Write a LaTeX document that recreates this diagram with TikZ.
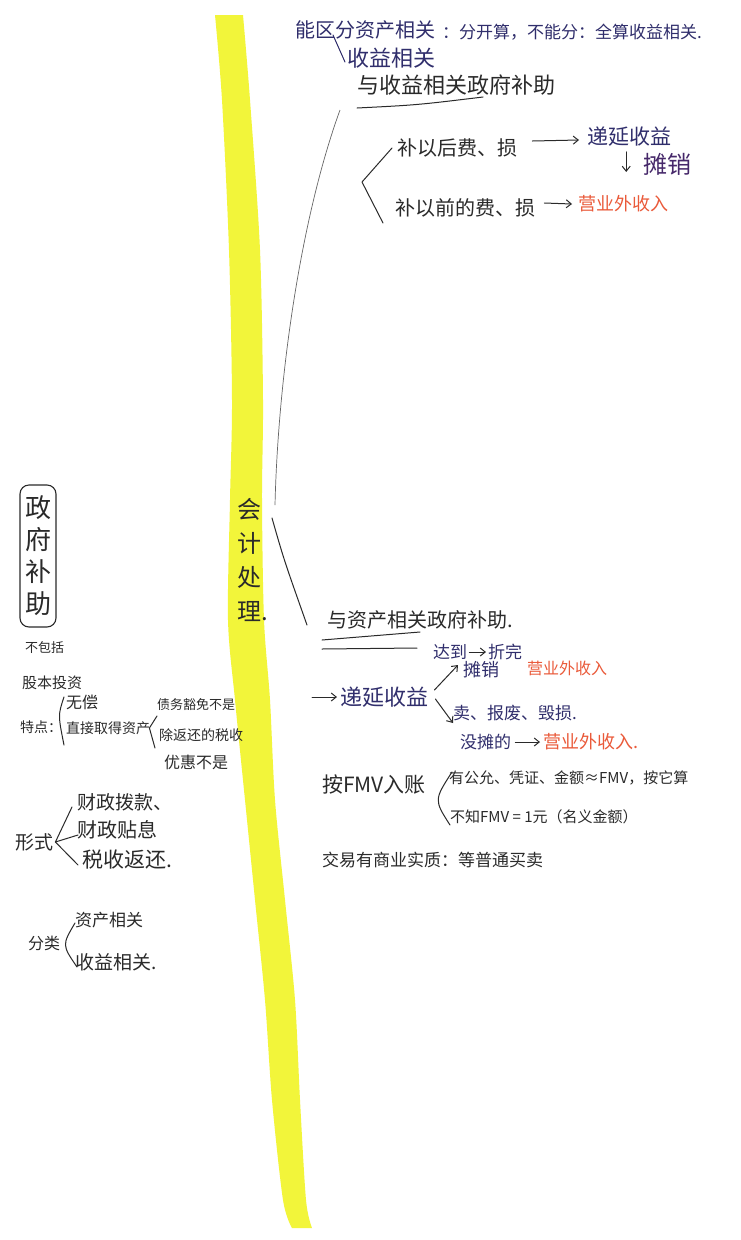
\documentclass[tikz,border=0pt]{standalone}
\usepackage{fontspec}
\setmainfont{Noto Sans CJK SC}
\usetikzlibrary{arrows.meta}
\definecolor{ink}{HTML}{2A2A2A}
\definecolor{navy}{HTML}{302E6C}
\definecolor{purp}{HTML}{46286A}
\definecolor{redink}{HTML}{EA5A3A}
\definecolor{hl}{HTML}{F2F53A}
\definecolor{greyline}{HTML}{666666}
\begin{document}
\begin{tikzpicture}[x=1pt,y=-1pt,
  t/.style={anchor=west,inner sep=0pt,text=ink},
  fs/.style={font=\fontsize{#1}{#1}\selectfont},
  nv/.style={text=navy},
  rd/.style={text=redink},
  ln/.style={draw=ink,line width=1pt,line cap=round,line join=round},
  arr/.style={ln,-{Straight Barb[length=5pt,width=8pt]}}]
\useasboundingbox (0,0) rectangle (740,1240);
\fill[white] (0,0) rectangle (740,1240);
% highlighter stripe
\fill[hl] plot[smooth] coordinates {(215,15) (222,100) (229,250) (232,400) (230,500) (228,620) (235,700) (245,800) (255,900) (265,1000) (272,1100) (283,1200) (292,1228)}
  -- plot[smooth] coordinates {(312,1228) (306,1200) (300,1100) (295,1000) (285,900) (275,800) (270,700) (264,620) (262,500) (263,400) (260,250) (250,100) (243,15)} -- cycle;

% central node
\node[inner sep=0pt,text=ink,align=center,font=\fontsize{24}{34}\selectfont] (kj) at (249,560) {会\\计\\处\\理\rlap{.}};

% connectors from central node
\coordinate (gTop) at (340,110);
\coordinate (gBot) at (275,505);
\coordinate (kTop) at (272,518);
\coordinate (kBot) at (307,625);
\draw[draw=greyline,line width=0.7pt] (gTop) .. controls (300,220) and (278,380) .. (gBot);
\draw[ln] (kTop) .. controls (284,560) .. (kBot);

% ---------- top branch ----------
\node[t,nv,fs=20] (t1a) at (295,30) {能区分资产相关};
\node[t,nv,fs=17] (t1b) at (442,32) {：分开算，不能分：全算收益相关.};
\node[t,nv,fs=22] (t2) at (347,58) {收益相关};
\draw[ln,draw=navy] ([xshift=38pt,yshift=-5pt]t1a.west) -- ([xshift=-2pt,yshift=-4pt]t2.west);
\node[t,fs=22] (t3) at (357,85) {与收益相关政府补助};
\draw[ln] ([yshift=-23pt]t3.west) .. controls ([xshift=60pt,yshift=-20pt]t3.west) .. ([xshift=126pt,yshift=-12pt]t3.west);

\node[t,fs=20] (b1) at (397,148) {补以后费、损};
\node[t,nv,fs=21] (d1) at (587,137) {递延收益};
\node[t,fs=24,text=purp] (am1) at (643,164) {摊销};
\node[t,fs=20] (b2) at (395,208) {补以前的费、损};
\node[t,rd,fs=18] (y1) at (578,204) {营业外收入};
\draw[arr] ([xshift=15pt,yshift=7pt]b1.east) -- ([xshift=-8pt,yshift=-3pt]d1.west);
\draw[arr] ([xshift=-3pt,yshift=-5pt]d1.south) -- ++(0,20);
\draw[arr] ([xshift=9pt,yshift=5pt]b2.east) -- ([xshift=-6pt]y1.west);
\draw[ln] ([xshift=-5pt]b1.west) -- (362,182) -- ([xshift=-12pt,yshift=-15pt]b2.west);

% ---------- lower branch ----------
\node[t,fs=20] (m1) at (327,620) {与资产相关政府补助.};
\draw[ln] ([xshift=-5pt,yshift=-20pt]m1.west) -- ([xshift=93pt,yshift=-12pt]m1.west);
\draw[ln] ([xshift=-5pt,yshift=-29pt]m1.west) -- ([xshift=90pt,yshift=-28pt]m1.west);
\node[t,nv,fs=22] (m2) at (340,697) {递延收益};
\draw[arr] ([xshift=-28pt]m2.west) -- ([xshift=-3pt]m2.west);
\node[t,nv,fs=17] (m3) at (433,652) {达到};
\node[t,nv,fs=17] (m3b) at (488,652) {折完};
\draw[arr] ([xshift=2pt]m3.east) -- ([xshift=-2pt]m3b.west);
\node[t,nv,fs=18] (m4) at (463,670) {摊销};
\node[t,rd,fs=16] (m5) at (527,668) {营业外收入};
\draw[arr] ([xshift=6pt,yshift=7pt]m2.east) -- ([xshift=-5pt,yshift=5pt]m4.west);
\node[t,nv,fs=17] (m6) at (453,713) {卖、报废、毁损.};
\draw[arr] ([xshift=7pt,yshift=-2pt]m2.east) -- ([yshift=-10pt]m6.west);
\node[t,nv,fs=17] (m7) at (460,742) {没摊的};
\node[t,rd,fs=18] (m8) at (543,742) {营业外收入.};
\draw[arr] ([xshift=4pt]m7.east) -- ([xshift=-3pt]m8.west);

\node[t,fs=21] (m9) at (322,785) {按FMV入账};
\node[t,fs=15] (m10) at (449,778) {有公允、凭证、金额≈FMV，按它算};
\node[t,fs=15] (m11) at (450,817) {不知FMV = 1元（名义金额）};
\draw[ln] ([xshift=3pt,yshift=6pt]m10.west) .. controls (434,800) .. ([xshift=0pt,yshift=-8pt]m11.west);
\node[t,fs=17] (m12) at (322,860) {交易有商业实质：等普通买卖};

% ---------- left side ----------
\node[draw=ink,line width=1.1pt,rounded corners=9pt,minimum width=36pt,minimum height=142pt,inner sep=0pt,text=ink,align=center,font=\fontsize{26}{32}\selectfont] (L1) at (38,556) {政\\府\\补\\助};
\node[t,fs=13] (L2) at (25,648) {不包括};
\node[t,fs=15] (L3) at (22,683) {股本投资};
\node[t,fs=14] (L4) at (20,727) {特点：};
\node[t,fs=16] (L5) at (66,702) {无偿};
\node[t,fs=14] (L6) at (66,728) {直接取得资产};
\draw[ln] ([xshift=-2pt,yshift=5pt]L5.west) .. controls (58,715) .. ([xshift=-2pt,yshift=-17pt]L6.west);
\node[t,fs=13] (L7) at (157,705) {债务豁免不是};
\node[t,fs=14] (L8) at (159,735) {除返还的税收};
\node[t,fs=16] (L9) at (164,762) {优惠不是};
\draw[ln] ([yshift=-11pt]L7.west) -- ([xshift=-1pt]L6.east) -- ([xshift=-4pt,yshift=-13pt]L8.west);
\node[t,fs=19] (L10) at (15,842) {形式};
\node[t,fs=19] (L11) at (77,802) {财政拨款、};
\node[t,fs=20] (L12) at (77,830) {财政贴息};
\node[t,fs=21] (L13) at (82,860) {税收返还.};
\draw[ln] ([xshift=-5pt,yshift=-5pt]L11.west) -- ([xshift=2pt]L10.east) -- ([xshift=-4pt,yshift=-5pt]L13.west);
\draw[ln] ([xshift=2pt]L10.east) -- ([xshift=1pt,yshift=-5pt]L12.west);
\node[t,fs=16] (L14) at (28,943) {分类};
\node[t,fs=17] (L15) at (75,920) {资产相关};
\node[t,fs=19] (L16) at (75,962) {收益相关.};
\draw[ln] ([yshift=-3pt]L15.west) .. controls (62,945) .. ([xshift=2pt,yshift=-5pt]L16.west);
\end{tikzpicture}
\end{document}
